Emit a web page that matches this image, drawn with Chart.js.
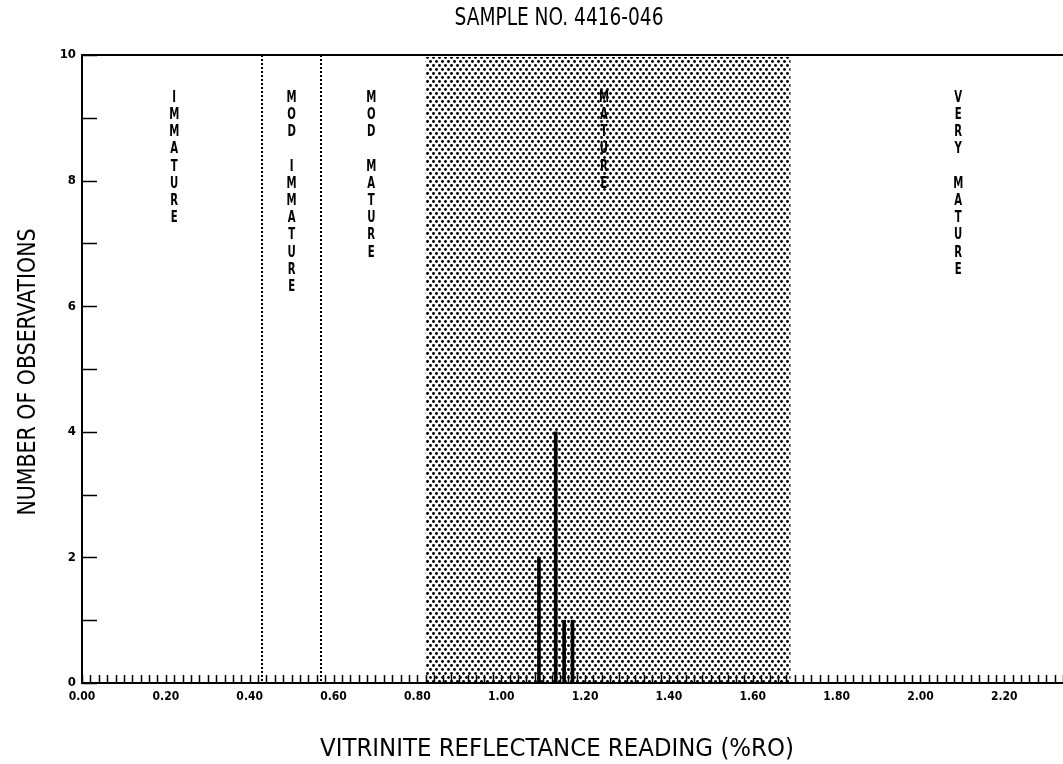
<!DOCTYPE html>
<html>
<head>
<meta charset="utf-8">
<script src="https://cdn.jsdelivr.net/npm/chart.js@4/dist/chart.umd.min.js"></script>
<style>
  body { margin: 0; background: #fff; }
  #wrap { width: 1063px; height: 764px; }
</style>
</head>
<body>
<div id="wrap"><canvas id="chart" width="1063" height="764"></canvas></div>
<script>
// readings (%Ro) and counts
const readings = [1.09, 1.13, 1.15, 1.17];
const counts = [2, 4, 1, 1];

// maturity zones
const zoneBounds = [0.43, 0.57];          // dotted dividers
const matureBand = [0.82, 1.69];          // shaded band
const zoneNames = ['IMMATURE', 'MOD IMMATURE', 'MOD MATURE', 'MATURE', 'VERY MATURE'];
const zoneCenters = [0.22, 0.50, 0.69, 1.245, 2.09];

const xLabelStep = 0.2;
const yLabels = [0, 2, 4, 6, 8, 10];

const narrow = "'Liberation Sans Narrow', 'DejaVu Sans Condensed', sans-serif";

// dot screen for the mature band
const tile = document.createElement('canvas');
tile.width = 6; tile.height = 8;
const tctx = tile.getContext('2d');
tctx.fillStyle = '#000';
[[1.5, 1.5], [4.5, 5.5]].forEach(([cx, cy]) => {
    tctx.beginPath();
    tctx.arc(cx, cy, 1.45, 0, Math.PI * 2);
    tctx.fill();
});

// text squeezed or stretched sideways
function wideText(ctx, str, x, y, sx) {
    ctx.save();
    ctx.translate(x, y);
    ctx.scale(sx, 1);
    ctx.fillText(str, 0, 0);
    ctx.restore();
}

const decor = {
    id: 'decor',
    beforeDatasetsDraw(chart) {
        const {ctx, chartArea: a, scales: {x}} = chart;
        ctx.save();
        // shaded band
        const x0 = x.getPixelForValue(matureBand[0]);
        const x1 = x.getPixelForValue(matureBand[1]);
        ctx.fillStyle = ctx.createPattern(tile, 'repeat');
        ctx.fillRect(x0, a.top + 2, x1 - x0, a.bottom - a.top - 2);
        // dotted dividers
        ctx.strokeStyle = '#000';
        ctx.lineWidth = 2;
        ctx.setLineDash([2, 2]);
        zoneBounds.forEach(v => {
            const px = Math.round(x.getPixelForValue(v));
            ctx.beginPath();
            ctx.moveTo(px, a.top);
            ctx.lineTo(px, a.bottom);
            ctx.stroke();
        });
        ctx.setLineDash([]);
        // vertical zone names, one letter per line
        ctx.fillStyle = '#000';
        ctx.font = 'bold 15px ' + narrow;
        ctx.textAlign = 'center';
        ctx.textBaseline = 'middle';
        zoneNames.forEach((name, i) => {
            const px = x.getPixelForValue(zoneCenters[i]);
            name.split('').forEach((ch, j) => {
                if (ch !== ' ') wideText(ctx, ch, px, 98 + j * 17.2, 0.75);
            });
        });
        ctx.restore();
    },
    afterDraw(chart) {
        const {ctx, chartArea: a, scales: {x, y}} = chart;
        ctx.save();
        ctx.strokeStyle = '#000';
        // top frame line
        ctx.lineWidth = 2;
        ctx.beginPath();
        ctx.moveTo(a.left, a.top);
        ctx.lineTo(a.right, a.top);
        ctx.stroke();
        // inward tick marks
        ctx.lineWidth = 1.5;
        x.ticks.forEach(t => {
            const px = Math.round(x.getPixelForValue(t.value)) + 0.5;
            ctx.beginPath();
            ctx.moveTo(px, a.bottom);
            ctx.lineTo(px, a.bottom - 8);
            ctx.stroke();
        });
        y.ticks.forEach(t => {
            const py = Math.round(y.getPixelForValue(t.value)) + 0.5;
            ctx.beginPath();
            ctx.moveTo(a.left, py);
            ctx.lineTo(a.left + 15, py);
            ctx.stroke();
        });
        // titles
        ctx.fillStyle = '#000';
        ctx.font = '24px ' + narrow;
        ctx.textAlign = 'center';
        ctx.textBaseline = 'middle';
        wideText(ctx, 'SAMPLE NO. 4416-046', 559, 19, 0.86);
        wideText(ctx, 'VITRINITE REFLECTANCE READING (%RO)', 557, 750, 1.06);
        ctx.translate(29, 372);
        ctx.rotate(-Math.PI / 2);
        wideText(ctx, 'NUMBER OF OBSERVATIONS', 0, 0, 0.95);
        ctx.restore();
    }
};

const ctx = document.getElementById('chart').getContext('2d');
const myChart = new Chart(ctx, {
    type: 'bar',
    data: {
        datasets: [{
            data: readings.map((r, i) => ({x: r, y: counts[i]})),
            backgroundColor: '#000',
            borderWidth: 0,
            barThickness: 3,
        }],
    },
    options: {
        responsive: false,
        animation: false,
        layout: {padding: {top: 55, left: 0, right: 0, bottom: 0}},
        plugins: {legend: {display: false}, tooltip: {enabled: false}, title: {display: false}},
        scales: {
            x: {
                type: 'linear',
                offset: false,
                min: 0,
                max: 2.34,
                afterFit(s) { s.height = 81; s.paddingLeft = 0; s.paddingRight = 0; },
                afterBuildTicks(s) {
                    s.ticks = s.ticks.filter(t => Math.abs(t.value / 0.02 - Math.round(t.value / 0.02)) < 1e-6);
                },
                grid: {display: false, drawTicks: false, offset: false},
                border: {display: true, color: '#000', width: 2},
                ticks: {
                    stepSize: 0.02,
                    autoSkip: false,
                    maxRotation: 0,
                    padding: 7,
                    color: '#000',
                    font: {family: narrow, size: 12, weight: 'bold'},
                    callback(v) {
                        const k = v / xLabelStep;
                        return Math.abs(k - Math.round(k)) < 1e-6 ? v.toFixed(2) : '';
                    },
                },
            },
            y: {
                min: 0,
                max: 10,
                afterFit(s) { s.width = 82; },
                grid: {display: false, drawTicks: false},
                border: {display: true, color: '#000', width: 2},
                ticks: {
                    stepSize: 1,
                    padding: 6,
                    color: '#000',
                    font: {family: narrow, size: 13, weight: 'bold'},
                    callback(v) { return yLabels.includes(v) ? String(v) : ''; },
                },
            },
        },
    },
    plugins: [decor],
});
</script>
</body>
</html>
